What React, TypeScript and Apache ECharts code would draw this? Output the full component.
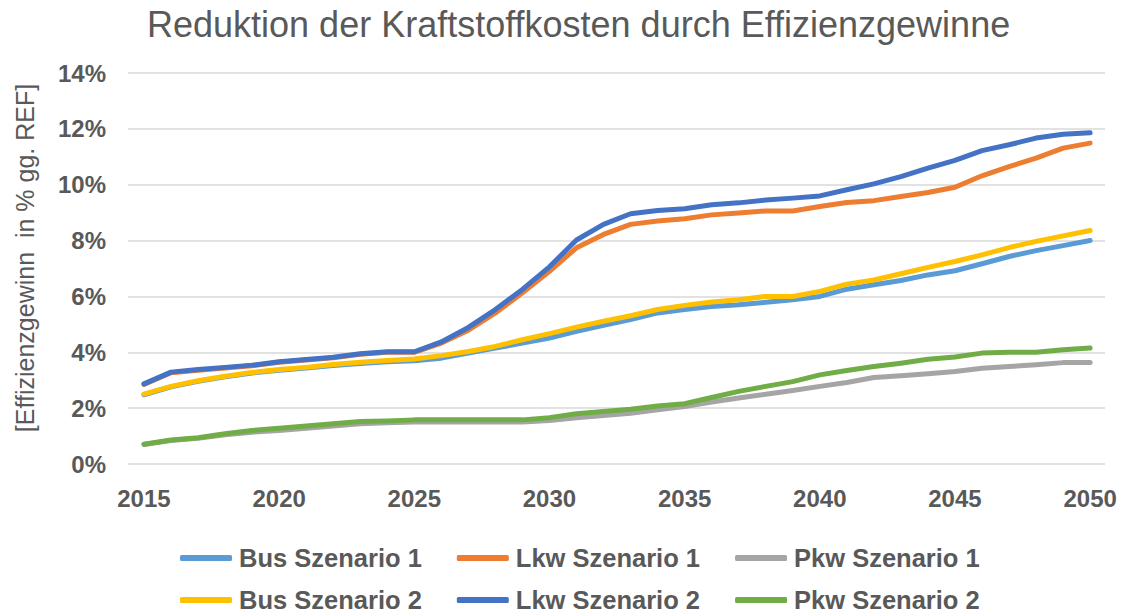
import React, { useEffect, useRef } from "react";
import * as echarts from "echarts";

const years: number[] = [
  2015, 2016, 2017, 2018, 2019, 2020, 2021, 2022, 2023, 2024, 2025, 2026,
  2027, 2028, 2029, 2030, 2031, 2032, 2033, 2034, 2035, 2036, 2037, 2038,
  2039, 2040, 2041, 2042, 2043, 2044, 2045, 2046, 2047, 2048, 2049, 2050,
];

const yearTicks: number[] = [2015, 2020, 2025, 2030, 2035, 2040, 2045, 2050];

// Efficiency gain in percent vs. reference
const busSzenario1: number[] = [
  2.48, 2.76, 2.96, 3.12, 3.26, 3.36, 3.44, 3.53, 3.6, 3.66, 3.7, 3.79,
  3.97, 4.15, 4.33, 4.51, 4.75, 4.97, 5.17, 5.41, 5.53, 5.64, 5.7, 5.79,
  5.88, 6.0, 6.26, 6.42, 6.57, 6.77, 6.92, 7.17, 7.43, 7.64, 7.82, 8.0,
];
const lkwSzenario1: number[] = [
  2.85, 3.27, 3.36, 3.44, 3.52, 3.64, 3.72, 3.8, 3.93, 4.0, 4.0, 4.33,
  4.79, 5.41, 6.13, 6.9, 7.74, 8.22, 8.58, 8.7, 8.78, 8.92, 8.99, 9.06,
  9.06, 9.22, 9.36, 9.43, 9.58, 9.72, 9.91, 10.32, 10.65, 10.95, 11.31, 11.49,
];
const pkwSzenario1: number[] = [
  0.7, 0.84, 0.92, 1.05, 1.14, 1.2, 1.28, 1.36, 1.44, 1.48, 1.5, 1.5,
  1.5, 1.5, 1.5, 1.56, 1.66, 1.74, 1.82, 1.94, 2.06, 2.22, 2.36, 2.5,
  2.63, 2.78, 2.92, 3.1, 3.16, 3.23, 3.31, 3.43, 3.49, 3.55, 3.63, 3.63,
];
const busSzenario2: number[] = [
  2.5, 2.78, 2.98, 3.14, 3.28, 3.38, 3.46, 3.56, 3.64, 3.71, 3.76, 3.88,
  4.03, 4.21, 4.45, 4.67, 4.9, 5.11, 5.31, 5.53, 5.68, 5.8, 5.88, 6.0,
  6.0, 6.18, 6.44, 6.59, 6.81, 7.04, 7.25, 7.49, 7.75, 7.97, 8.17, 8.36,
];
const lkwSzenario2: number[] = [
  2.87, 3.29, 3.38, 3.46, 3.54, 3.66, 3.74, 3.82, 3.95, 4.02, 4.02, 4.37,
  4.89, 5.53, 6.25, 7.06, 8.02, 8.58, 8.96, 9.08, 9.14, 9.28, 9.35, 9.45,
  9.52, 9.6, 9.82, 10.03, 10.29, 10.59, 10.87, 11.22, 11.43, 11.67, 11.81, 11.86,
];
const pkwSzenario2: number[] = [
  0.71, 0.86, 0.94, 1.08, 1.2, 1.28, 1.36, 1.44, 1.52, 1.54, 1.58, 1.58,
  1.58, 1.58, 1.58, 1.66, 1.8, 1.88, 1.96, 2.08, 2.16, 2.38, 2.6, 2.78,
  2.95, 3.19, 3.35, 3.49, 3.61, 3.75, 3.83, 3.97, 4.0, 4.0, 4.09, 4.15,
];

const seriesNames: string[] = [
  "Bus Szenario 1",
  "Lkw Szenario 1",
  "Pkw Szenario 1",
  "Bus Szenario 2",
  "Lkw Szenario 2",
  "Pkw Szenario 2",
];
const seriesValues: number[][] = [
  busSzenario1,
  lkwSzenario1,
  pkwSzenario1,
  busSzenario2,
  lkwSzenario2,
  pkwSzenario2,
];
const seriesColors: string[] = [
  "#5B9BD5",
  "#ED7D31",
  "#A5A5A5",
  "#FFC000",
  "#4472C4",
  "#70AD47",
];

const TEXT = "#595959";
const FONT = "'Liberation Sans', Arial, sans-serif";

export default function App() {
  const ref = useRef<HTMLDivElement>(null);

  useEffect(() => {
    if (!ref.current) return;
    const chart = echarts.init(ref.current, undefined, { renderer: "svg" });

    const legendCommon = {
      left: 180,
      padding: 0,
      itemWidth: 52,
      itemHeight: 6,
      itemGap: 35,
      icon: "roundRect",
      textStyle: {
        color: TEXT,
        fontSize: 25.5,
        lineHeight: 26,
        fontWeight: "bold" as const,
        fontFamily: FONT,
        padding: [0, 0, 0, 2],
      },
    };

    chart.setOption({
      animation: false,
      backgroundColor: "#ffffff",
      title: {
        text: "Reduktion der Kraftstoffkosten durch Effizienzgewinne",
        left: 147,
        top: 6,
        padding: 0,
        textStyle: {
          color: TEXT,
          fontSize: 36,
          fontWeight: "normal",
          fontFamily: FONT,
        },
      },
      legend: [
        { ...legendCommon, top: 545, data: seriesNames.slice(0, 3) },
        { ...legendCommon, top: 587, data: seriesNames.slice(3, 6) },
      ],
      grid: {
        left: 128,
        right: 22,
        top: 73,
        bottom: 150,
        outerBoundsMode: "none",
      },
      xAxis: {
        type: "value",
        min: 2014.41,
        max: 2050.55,
        axisLine: { show: false },
        axisTick: { show: false },
        splitLine: { show: false },
        axisLabel: {
          customValues: yearTicks,
          color: TEXT,
          fontSize: 24,
          fontWeight: "bold",
          fontFamily: FONT,
          margin: 22,
          formatter: (v: number) => String(v),
        },
      },
      yAxis: {
        type: "value",
        min: 0,
        max: 14,
        interval: 2,
        axisLine: { show: false },
        axisTick: { show: false },
        splitLine: { lineStyle: { color: "#d9d9d9", width: 1.5 } },
        axisLabel: {
          color: TEXT,
          fontSize: 24,
          fontWeight: "bold",
          fontFamily: FONT,
          margin: 22,
          formatter: "{value}%",
        },
      },
      graphic: [
        {
          type: "text",
          x: 25,
          y: 258,
          rotation: Math.PI / 2,
          style: {
            text: "[Effizienzgewinn  in % gg. REF]",
            fill: TEXT,
            fontSize: 25,
            fontFamily: FONT,
            textAlign: "center",
            textVerticalAlign: "middle",
          },
        },
      ],
      series: seriesNames.map((name, i) => ({
        name,
        type: "line",
        data: years.map((y, j) => [y, seriesValues[i][j]]),
        showSymbol: false,
        symbol: "none",
        color: seriesColors[i],
        lineStyle: {
          width: 5,
          color: seriesColors[i],
          cap: "round",
          join: "round",
        },
        itemStyle: { color: seriesColors[i] },
      })),
    });

    return () => chart.dispose();
  }, []);

  return (
    <div
      ref={ref}
      style={{ position: "fixed", left: 0, top: 0, width: 1127, height: 614 }}
    />
  );
}
